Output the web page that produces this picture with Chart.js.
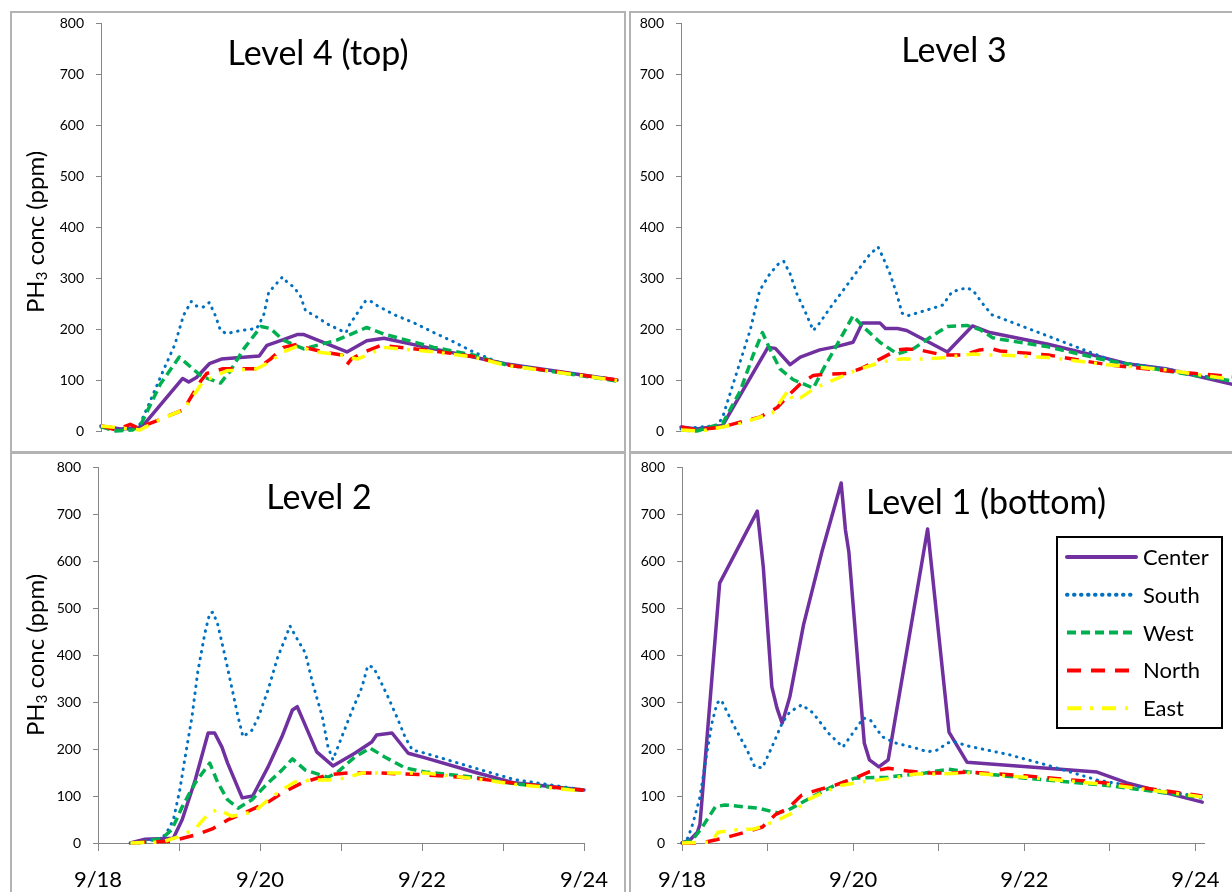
<!DOCTYPE html>
<html>
<head>
<meta charset="utf-8">
<script src="https://cdn.jsdelivr.net/npm/chart.js@4.4.1/dist/chart.umd.min.js"></script>
<style>
  body { margin: 0; width: 1232px; height: 892px; overflow: hidden; background: #fff; position: relative; font-family: Lato, "Open Sans", sans-serif; }
  .panel { position: absolute; border: 2px solid #b3b3b3; box-sizing: border-box; }
  canvas { position: absolute; }
  .title { position: absolute; font-size: 34px; line-height: 1; white-space: nowrap; transform: translateX(-50%); color: #000; }
  .ytitle { position: absolute; font-size: 24px; line-height: 1; white-space: nowrap; transform: translate(-50%, -50%) rotate(-90deg); color: #000; }
  .ytitle sub { font-size: 0.62em; vertical-align: -0.2em; }
</style>
</head>
<body>
<div class="panel" style="left:10px;top:11px;width:616px;height:442px"></div>
<div class="panel" style="left:629px;top:11px;width:640px;height:442px"></div>
<div class="panel" style="left:10px;top:452px;width:616px;height:460px"></div>
<div class="panel" style="left:629px;top:452px;width:640px;height:460px"></div>

<canvas id="lvl4" width="612" height="438" style="left:12px;top:13px;width:612px;height:438px"></canvas>
<canvas id="lvl3" width="616" height="438" style="left:631px;top:13px;width:616px;height:438px"></canvas>
<canvas id="lvl2" width="612" height="438" style="left:12px;top:454px;width:612px;height:438px"></canvas>
<canvas id="lvl1" width="601" height="438" style="left:631px;top:454px;width:601px;height:438px"></canvas>

<div class="title" style="left:318px;top:35px">Level 4 (top)</div>
<div class="title" style="left:954px;top:32px">Level 3</div>
<div class="title" style="left:319px;top:479px">Level 2</div>
<div class="title" style="left:986px;top:484px">Level 1 (bottom)</div>
<div class="ytitle" style="left:36px;top:232px">PH<sub>3</sub> conc (ppm)</div>
<div class="ytitle" style="left:36px;top:655px">PH<sub>3</sub> conc (ppm)</div>

<script>
// series names, in Excel's plotting order
var SERIES = ['Center', 'South', 'West', 'North', 'East'];
var X_TICK_LABELS = ['9/18', '', '9/20', '', '9/22', '', '9/24'];

// x values are days after 9/18, y values are ppm

// Level 4 (top)
var L4_CENTER_X = [0, .23, .43, .51, .95, 1.02, 1.11, 1.26, 1.40, 1.84, 1.93, 2.12, 2.28, 2.36, 2.86, 3.09, 3.29, 3.87, 4.33, 4.70, 6.0];
var L4_CENTER_Y = [10, 4, 6, 15, 103, 96, 105, 132, 141, 147, 168, 179, 189, 189, 155, 177, 182, 161, 145, 132, 100];
var L4_SOUTH_X = [0, .23, .43, .55, .72, .86, .96, 1.05, 1.11, 1.19, 1.26, 1.33, 1.39, 1.46, 1.62, 1.81, 1.89, 1.95, 2.11, 2.18, 2.24, 2.32, 2.38, 2.47, 2.63, 2.79, 2.85, 2.88, 2.98, 3.08, 3.14, 3.22, 3.41, 3.64, 3.87, 4.11, 4.33, 4.56, 4.66, 5.3, 6.0];
var L4_SOUTH_Y = [8, 2, 5, 50, 117, 170, 227, 254, 245, 243, 252, 226, 197, 191, 197, 201, 226, 272, 302, 289, 283, 264, 235, 228, 210, 197, 193, 206, 231, 256, 254, 245, 228, 212, 193, 174, 155, 139, 132, 117, 100];
var L4_WEST_X = [0, .17, .37, .47, .69, .91, 1.04, 1.17, 1.39, 1.50, 1.66, 1.86, 1.97, 2.12, 2.36, 2.51, 2.74, 2.91, 3.09, 3.29, 3.87, 4.33, 4.70, 6.0];
var L4_WEST_Y = [8, 0, 2, 15, 92, 145, 126, 107, 94, 117, 161, 205, 201, 178, 161, 168, 178, 190, 203, 190, 164, 149, 130, 98];
var L4_NORTH_X = [0, .17, .34, .43, .57, .72, .96, 1.07, 1.16, 1.23, 1.42, 1.81, 1.97, 2.12, 2.28, 2.36, 2.59, 2.80, 2.86, 2.91, 3.06, 3.26, 3.87, 4.33, 4.70, 6.0];
var L4_NORTH_Y = [10, 2, 13, 6, 15, 25, 42, 73, 98, 113, 122, 122, 141, 164, 170, 164, 155, 149, 130, 141, 155, 168, 157, 146, 130, 100];
var L4_EAST_X = [0, .45, .72, .96, 1.11, 1.19, 1.27, 1.46, 1.81, 1.97, 2.12, 2.28, 2.51, 2.79, 2.98, 3.17, 3.29, 3.87, 4.33, 4.70, 6.0];
var L4_EAST_Y = [10, 2, 25, 42, 78, 98, 103, 118, 122, 136, 155, 166, 155, 149, 141, 155, 164, 155, 145, 129, 99];

// Level 3
var L3_CENTER_X = [0, .17, .45, .94, 1.02, 1.18, 1.29, 1.50, 1.69, 1.86, 1.96, 2.15, 2.21, 2.34, 2.44, 2.88, 3.15, 3.34, 3.97, 4.61, 4.82, 5.24, 5.95, 6.0];
var L3_CENTER_Y = [8, 4, 11, 164, 162, 130, 145, 159, 166, 174, 212, 212, 201, 201, 197, 155, 206, 193, 170, 142, 132, 122, 92, 90];
var L3_SOUTH_X = [0, .39, .45, .53, .64, .75, .85, .96, 1.05, 1.11, 1.18, 1.25, 1.34, 1.43, 1.50, 1.61, 1.75, 1.90, 2.04, 2.13, 2.18, 2.26, 2.34, 2.39, 2.45, 2.62, 2.83, 2.93, 3.09, 3.16, 3.26, 3.36, 3.45, 3.97, 4.69, 5.24, 6.0];
var L3_SOUTH_Y = [4, 11, 27, 73, 136, 199, 275, 308, 327, 333, 308, 270, 235, 197, 212, 241, 275, 312, 346, 361, 342, 308, 264, 231, 226, 235, 247, 273, 281, 275, 250, 228, 222, 186, 136, 122, 96];
var L3_WEST_X = [0, .17, .45, .64, .78, .88, .96, 1.07, 1.21, 1.43, 1.54, 1.72, 1.86, 1.96, 2.15, 2.34, 2.51, 2.72, 2.88, 3.09, 3.23, 3.37, 3.45, 3.97, 4.61, 5.24, 6.0];
var L3_WEST_Y = [2, 0, 15, 78, 149, 193, 161, 122, 101, 84, 122, 180, 226, 206, 174, 151, 161, 187, 205, 207, 199, 183, 180, 165, 138, 118, 97];
var L3_NORTH_X = [0, .17, .45, .71, .85, 1.04, 1.18, 1.29, 1.43, 1.54, 1.79, 1.94, 2.15, 2.34, 2.44, 2.58, 2.83, 3.05, 3.23, 3.36, 3.45, 3.97, 4.61, 5.24, 6.0];
var L3_NORTH_Y = [8, 2, 8, 21, 27, 46, 73, 92, 109, 111, 113, 122, 141, 159, 161, 159, 149, 149, 159, 161, 157, 149, 130, 118, 106];
var L3_EAST_X = [0, .22, .45, .64, .82, .99, 1.16, 1.21, 1.29, 1.43, 1.54, 1.69, 1.86, 2.01, 2.18, 2.37, 2.58, 2.80, 2.98, 3.16, 3.34, 3.45, 3.97, 4.61, 5.24, 6.0];
var L3_EAST_Y = [2, 0, 8, 15, 25, 36, 80, 60, 65, 82, 92, 103, 117, 126, 136, 141, 141, 143, 147, 151, 149, 149, 144, 130, 120, 100];

// Level 2
var L2_CENTER_X = [.40, .58, .93, 1.04, 1.20, 1.36, 1.44, 1.53, 1.60, 1.78, 1.91, 2.10, 2.27, 2.40, 2.46, 2.53, 2.70, 2.90, 3.17, 3.38, 3.44, 3.63, 3.83, 4.04, 4.64, 5.14, 6.0];
var L2_CENTER_Y = [0, 8, 10, 50, 134, 234, 234, 204, 170, 96, 100, 162, 226, 283, 290, 262, 194, 164, 191, 215, 230, 234, 191, 181, 151, 128, 113];
var L2_SOUTH_X = [.40, .79, .85, .93, 1.01, 1.07, 1.16, 1.23, 1.32, 1.38, 1.42, 1.48, 1.57, 1.65, 1.73, 1.79, 1.90, 1.98, 2.10, 2.22, 2.33, 2.37, 2.43, 2.56, 2.65, 2.77, 2.84, 2.90, 3.01, 3.14, 3.26, 3.33, 3.40, 3.48, 3.58, 3.69, 3.79, 3.88, 4.04, 4.64, 5.14, 6.0];
var L2_SOUTH_Y = [0, 10, 23, 49, 113, 177, 268, 362, 447, 489, 491, 464, 396, 332, 268, 226, 240, 268, 326, 396, 443, 462, 443, 404, 340, 268, 204, 177, 226, 283, 332, 377, 374, 347, 311, 268, 226, 198, 191, 160, 135, 113];
var L2_WEST_X = [.49, .79, .91, 1.04, 1.20, 1.38, 1.48, 1.60, 1.73, 1.90, 2.10, 2.27, 2.40, 2.56, 2.84, 2.96, 3.17, 3.36, 3.54, 3.79, 4.04, 4.64, 5.14, 6.0];
var L2_WEST_Y = [0, 10, 28, 77, 128, 170, 128, 92, 74, 92, 128, 155, 179, 155, 140, 151, 183, 202, 183, 160, 151, 140, 126, 112];
var L2_NORTH_X = [.42, .58, .91, 1.20, 1.41, 1.60, 1.81, 2.10, 2.27, 2.52, 2.84, 3.09, 3.46, 4.04, 4.64, 5.14, 6.0];
var L2_NORTH_Y = [0, 2, 4, 17, 30, 49, 64, 87, 106, 128, 145, 149, 149, 145, 138, 127, 112];
var L2_EAST_X = [.40, .79, .99, 1.20, 1.36, 1.48, 1.65, 1.81, 1.94, 2.10, 2.27, 2.43, 2.64, 2.84, 3.05, 3.26, 3.46, 4.04, 4.64, 5.14, 6.0];
var L2_EAST_Y = [0, 2, 13, 30, 62, 72, 57, 62, 68, 92, 113, 130, 134, 134, 138, 149, 149, 149, 137, 125, 110];

// Level 1 (bottom)
var L1_CENTER_X = [0, .09, .18, .21, .44, .88, .95, 1.05, 1.11, 1.17, 1.26, 1.42, 1.64, 1.86, 1.91, 1.95, 2.13, 2.19, 2.30, 2.41, 2.87, 3.12, 3.33, 4.85, 5.20, 6.08];
var L1_CENTER_Y = [0, 6, 23, 40, 553, 706, 587, 332, 287, 255, 311, 464, 623, 766, 666, 619, 213, 177, 162, 177, 668, 236, 172, 151, 128, 87];
var L1_SOUTH_X = [0, .07, .13, .21, .29, .35, .41, .46, .50, .62, .76, .85, .94, 1.05, 1.17, 1.26, 1.40, 1.53, 1.71, 1.88, 2.02, 2.12, 2.20, 2.34, 2.49, 2.73, 2.87, 2.99, 3.10, 3.19, 3.35, 3.82, 4.28, 4.85, 5.20, 6.08];
var L1_SOUTH_Y = [0, 11, 43, 98, 191, 255, 298, 304, 289, 245, 198, 162, 160, 204, 255, 279, 294, 277, 234, 204, 240, 266, 262, 226, 213, 202, 194, 198, 213, 215, 206, 188, 165, 134, 123, 98];
var L1_WEST_X = [0, .12, .23, .39, .50, .89, 1.12, 1.24, 1.56, 1.79, 2.02, 2.41, 2.84, 3.11, 3.35, 4.01, 5.0, 6.08];
var L1_WEST_Y = [0, 6, 32, 77, 81, 74, 64, 70, 102, 123, 138, 140, 149, 157, 151, 138, 122, 96];
var L1_NORTH_X = [0, .23, .50, .70, .94, 1.09, 1.24, 1.40, 1.59, 1.79, 2.02, 2.18, 2.41, 2.64, 2.88, 3.16, 3.35, 4.01, 5.0, 6.08];
var L1_NORTH_Y = [0, 0, 11, 21, 34, 60, 74, 102, 113, 123, 138, 151, 159, 153, 149, 149, 151, 143, 127, 100];
var L1_EAST_X = [0, .35, .42, .64, .85, .97, 1.12, 1.29, 1.47, 1.67, 1.87, 2.11, 2.46, 2.73, 3.04, 3.35, 4.01, 5.0, 6.08];
var L1_EAST_Y = [0, 2, 23, 28, 30, 38, 49, 64, 92, 109, 123, 130, 138, 147, 147, 149, 140, 124, 98];

// line looks, same index as SERIES
var COLORS = ['#7030A0', '#0070C0', '#00B050', '#FF0000', '#FFFF00'];
var WIDTHS = [3.5, 3, 3.5, 3.5, 3.5];
var DASHES = [[], [0.5, 6.5], [9, 5], [14, 10], [14, 9, 3, 9]];
var CAPS = ['round', 'round', 'butt', 'butt', 'butt'];
var AXIS_GRAY = '#868686';

function pts(xs, ys) {
    return xs.map(function (x, i) { return { x: x, y: ys[i] }; });
}

// legend drawn by hand so the dash patterns show like Excel's
var legendBox = {
    id: 'legendBox',
    afterDraw: function (chart, args, opts) {
        if (!opts.show) return;
        var ctx = chart.ctx;
        ctx.save();
        ctx.lineWidth = 2;
        ctx.strokeStyle = '#000';
        ctx.setLineDash([]);
        ctx.strokeRect(opts.x, opts.y, opts.w, opts.h);
        chart.data.datasets.forEach(function (ds, i) {
            var y = opts.y + 20 + i * 37.8;
            ctx.beginPath();
            ctx.setLineDash(ds.borderDash);
            ctx.lineCap = ds.borderCapStyle;
            ctx.lineWidth = 4;
            ctx.strokeStyle = ds.borderColor;
            ctx.moveTo(opts.x + 10, y);
            ctx.lineTo(opts.x + 79, y);
            ctx.stroke();
            ctx.setLineDash([]);
            ctx.fillStyle = '#000';
            ctx.font = '22px Lato';
            ctx.textBaseline = 'alphabetic';
            ctx.fillText(ds.label, opts.x + 86, y + 8);
        });
        ctx.restore();
    }
};

// keep the scales from pushing the plot area inward
function noScalePadding(s) {
    s.paddingTop = 0;
    s.paddingBottom = 0;
    s.paddingLeft = 0;
    s.paddingRight = 0;
}

function buildChart(p) {
    var datasets = p.series.map(function (s, i) {
        return {
            label: SERIES[i],
            data: pts(s[0], s[1]),
            borderColor: COLORS[i],
            borderWidth: WIDTHS[i],
            borderDash: DASHES[i],
            borderCapStyle: CAPS[i],
            borderJoinStyle: 'round',
            pointRadius: 0,
            tension: 0,
            fill: false,
            clip: false,
            order: SERIES.length - 1 - i
        };
    });

    return new Chart(document.getElementById(p.id).getContext('2d'), {
        type: 'line',
        data: { datasets: datasets },
        plugins: [legendBox],
        options: {
            responsive: false,
            animation: false,
            layout: {
                autoPadding: false,
                padding: { left: 0, top: p.padTop, right: p.padRight, bottom: p.showX ? 0 : p.xHeight }
            },
            plugins: {
                legend: { display: false },
                tooltip: { enabled: false },
                legendBox: p.legend
            },
            scales: {
                x: {
                    type: 'linear',
                    min: 0,
                    max: p.xMax,
                    display: p.showX,
                    afterFit: function (s) { s.height = p.xHeight; noScalePadding(s); },
                    border: { display: true, color: AXIS_GRAY },
                    grid: { drawOnChartArea: false, drawTicks: true, tickLength: 8, color: AXIS_GRAY },
                    ticks: {
                        stepSize: 1,
                        autoSkip: false,
                        maxRotation: 0,
                        includeBounds: false,
                        padding: 16,
                        color: '#000',
                        font: { family: 'Lato', size: 22 },
                        callback: function (v) { return X_TICK_LABELS[v] || ''; }
                    }
                },
                y: {
                    min: 0,
                    max: 800,
                    afterFit: function (s) { s.width = p.yWidth; noScalePadding(s); },
                    border: { display: true, color: AXIS_GRAY },
                    grid: { drawOnChartArea: false, tickLength: 5, color: AXIS_GRAY },
                    ticks: { stepSize: 100, padding: 12, color: '#000', font: { family: 'Lato', size: 14 } }
                }
            }
        }
    });
}

buildChart({
    id: 'lvl4', xMax: 6, showX: false, xHeight: 10, yWidth: 89, padTop: 10, padRight: 7,
    legend: { show: false },
    series: [[L4_CENTER_X, L4_CENTER_Y], [L4_SOUTH_X, L4_SOUTH_Y], [L4_WEST_X, L4_WEST_Y], [L4_NORTH_X, L4_NORTH_Y], [L4_EAST_X, L4_EAST_Y]]
});
buildChart({
    id: 'lvl3', xMax: 6, showX: false, xHeight: 10, yWidth: 50, padTop: 10, padRight: 11,
    legend: { show: false },
    series: [[L3_CENTER_X, L3_CENTER_Y], [L3_SOUTH_X, L3_SOUTH_Y], [L3_WEST_X, L3_WEST_Y], [L3_NORTH_X, L3_NORTH_Y], [L3_EAST_X, L3_EAST_Y]]
});
buildChart({
    id: 'lvl2', xMax: 6, showX: true, xHeight: 49, yWidth: 86, padTop: 13, padRight: 40,
    legend: { show: false },
    series: [[L2_CENTER_X, L2_CENTER_Y], [L2_SOUTH_X, L2_SOUTH_Y], [L2_WEST_X, L2_WEST_Y], [L2_NORTH_X, L2_NORTH_Y], [L2_EAST_X, L2_EAST_Y]]
});
buildChart({
    id: 'lvl1', xMax: 6.1, showX: true, xHeight: 49, yWidth: 51, padTop: 13, padRight: 28,
    legend: { show: true, x: 426, y: 83, w: 165, h: 191 },
    series: [[L1_CENTER_X, L1_CENTER_Y], [L1_SOUTH_X, L1_SOUTH_Y], [L1_WEST_X, L1_WEST_Y], [L1_NORTH_X, L1_NORTH_Y], [L1_EAST_X, L1_EAST_Y]]
});
</script>
</body>
</html>
